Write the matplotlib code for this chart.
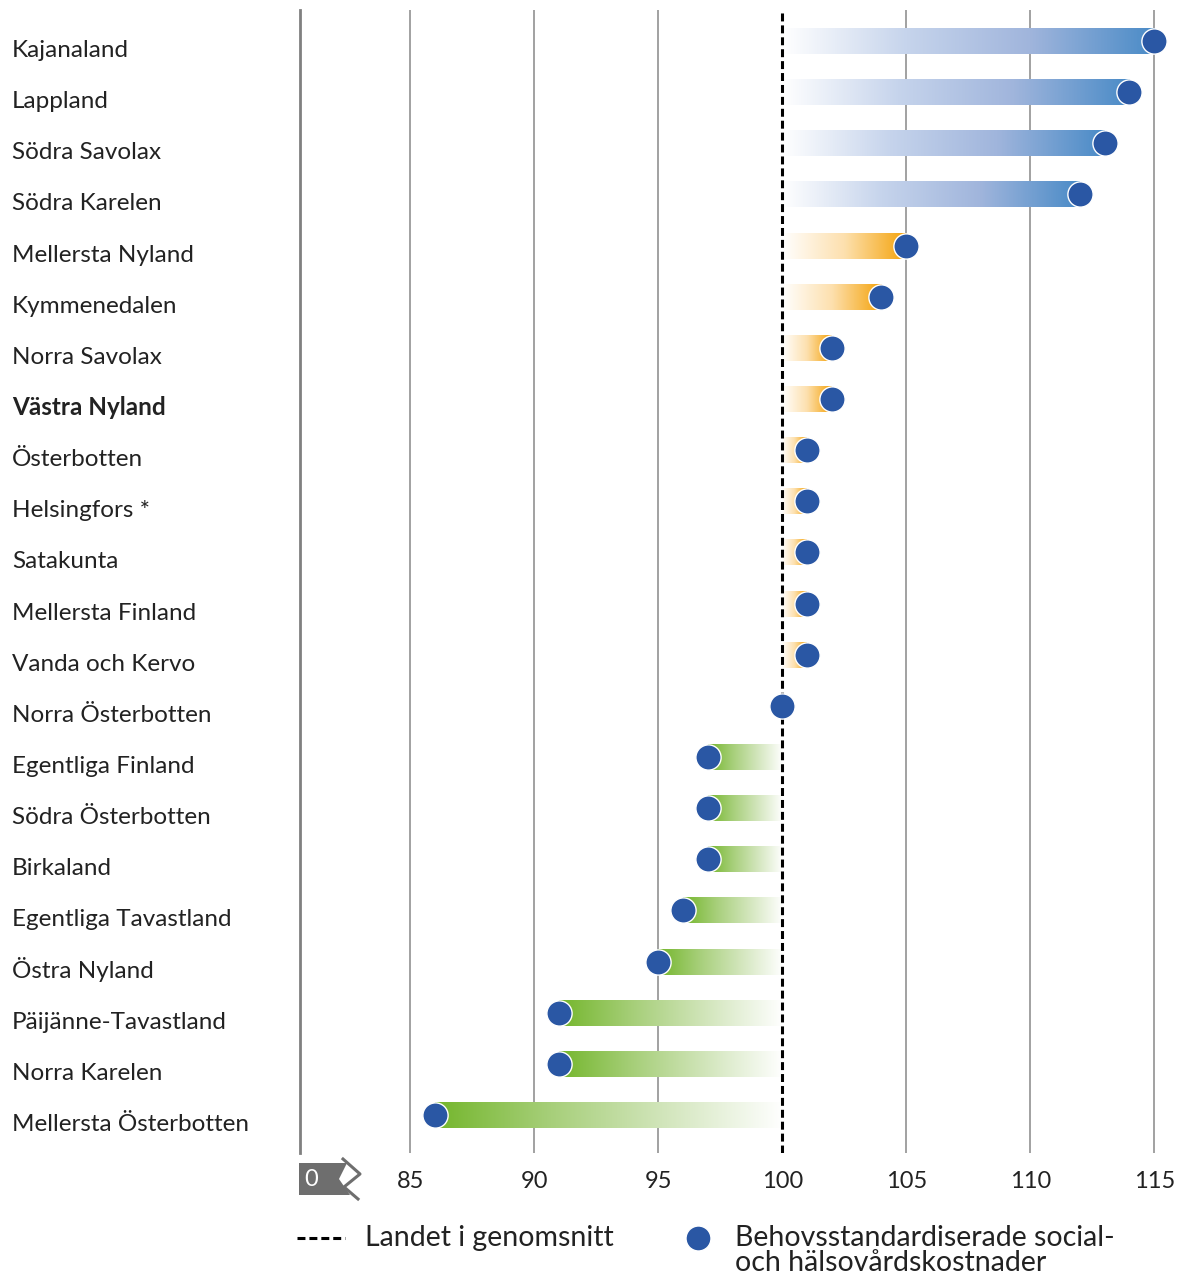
import numpy as np
import matplotlib
matplotlib.use("Agg")
import matplotlib.pyplot as plt
from matplotlib.colors import to_rgb
from matplotlib.transforms import blended_transform_factory
from matplotlib.lines import Line2D
from matplotlib.patches import Polygon

regions = [
    "Kajanaland", "Lappland", "Södra Savolax", "Södra Karelen",
    "Mellersta Nyland", "Kymmenedalen", "Norra Savolax", "Västra Nyland",
    "Österbotten", "Helsingfors *", "Satakunta", "Mellersta Finland",
    "Vanda och Kervo", "Norra Österbotten", "Egentliga Finland",
    "Södra Österbotten", "Birkaland", "Egentliga Tavastland", "Östra Nyland",
    "Päijänne-Tavastland", "Norra Karelen", "Mellersta Österbotten",
]
index_values = [115, 114, 113, 112, 105, 104, 102, 102, 101, 101, 101, 101,
                101, 100, 97, 97, 97, 96, 95, 91, 91, 86]
bar_group = ["blue"] * 4 + ["orange"] * 9 + ["none"] + ["green"] * 8
highlight = "Västra Nyland"

x_ticks = [85, 90, 95, 100, 105, 110, 115]
average = 100
x_left, x_right = 80.56, 115.84

W, H = 1185, 1275
plt.rcParams["font.family"] = ["Lato", "DejaVu Sans"]
text_col = "#222222"
dot_col = "#2a57a4"
gradients = {
    "blue": ["#ffffff", "#c6d4ec", "#a0b5dc", "#4a8bc7"],
    "orange": ["#ffffff", "#fde0ae", "#f4a20a"],
    "green": ["#ffffff", "#d3e6bd", "#a7cf7a", "#74b62c"],
}


def make_gradient(stops, n=256):
    stops = np.array([to_rgb(c) for c in stops])
    pos = np.linspace(0, 1, len(stops))
    t = np.linspace(0, 1, n)
    return np.stack([np.interp(t, pos, stops[:, k]) for k in range(3)], axis=-1)[None, :, :]


fig = plt.figure(figsize=(W / 100, H / 100), dpi=100)
ax = fig.add_axes([300 / W, 1 - 1153 / H, (1175 - 300) / W, (1153 - 10) / H])

rows = np.arange(len(regions))
half = 0.254
for r, v, g in zip(rows, index_values, bar_group):
    if g == "none" or v == average:
        continue
    ax.imshow(make_gradient(gradients[g]), extent=(average, v, r + half, r - half),
              aspect="auto", interpolation="bilinear", zorder=2)

for x in x_ticks:
    if x != average:
        ax.axvline(x, color="#9a9a9a", lw=1.3, zorder=1)
ax.axvline(average, color="black", lw=2.2, dashes=(2.6, 1.3), zorder=3)

ax.scatter(index_values, rows, s=330, color=dot_col, edgecolors="white",
           linewidths=1.0, zorder=5)

ax.set_xlim(x_left, x_right)
ax.set_ylim(21.743, -0.606)
for s in ["top", "right", "bottom"]:
    ax.spines[s].set_visible(False)
ax.spines["left"].set_color("#808080")
ax.spines["left"].set_linewidth(2)
ax.set_yticks([])
ax.set_xticks(x_ticks)
ax.set_xticklabels([str(x) for x in x_ticks], fontsize=17, color=text_col)
ax.tick_params(axis="x", length=0, pad=13)

trans = blended_transform_factory(fig.transFigure, ax.transData)
for r, name in zip(rows, regions):
    ax.text(12 / W, r + 0.313, name, transform=trans, ha="left", va="baseline",
            fontsize=17.5, color=text_col,
            fontweight="bold" if name == highlight else "normal")


def fx(px):
    return px / W


def fy(py):
    return 1 - py / H


# broken-axis "0" flag
flag = [(299, 1163), (347, 1163), (339, 1179), (350, 1195), (299, 1195)]
fig.patches.append(Polygon([(fx(a), fy(b)) for a, b in flag], closed=True,
                           transform=fig.transFigure, facecolor="#6e6e6e",
                           edgecolor="none"))
zig = [(343, 1159), (360, 1174), (344, 1187), (358, 1199)]
fig.add_artist(Line2D([fx(a) for a, b in zig], [fy(b) for a, b in zig],
                      color="#6e6e6e", lw=2.2, transform=fig.transFigure))
fig.text(fx(304), fy(1180), "0", color="white", fontsize=17, ha="left", va="center")

# legend
fig.add_artist(Line2D([fx(297), fx(345)], [fy(1238), fy(1238)], color="black",
                      lw=2.2, dashes=(2.6, 1.3), transform=fig.transFigure))
fig.text(fx(365), fy(1246), "Landet i genomsnitt", fontsize=20.5, color=text_col,
         ha="left", va="baseline")
fig.add_artist(Line2D([fx(698)], [fy(1238)], marker="o", markersize=18,
                      color=dot_col, markeredgecolor="white", lw=0,
                      transform=fig.transFigure))
fig.text(fx(735), fy(1246), "Behovsstandardiserade social-", fontsize=20.5,
         color=text_col, ha="left", va="baseline")
fig.text(fx(735), fy(1271), "och hälsovårdskostnader", fontsize=20.5,
         color=text_col, ha="left", va="baseline")

fig.savefig("out.png", dpi=100)
